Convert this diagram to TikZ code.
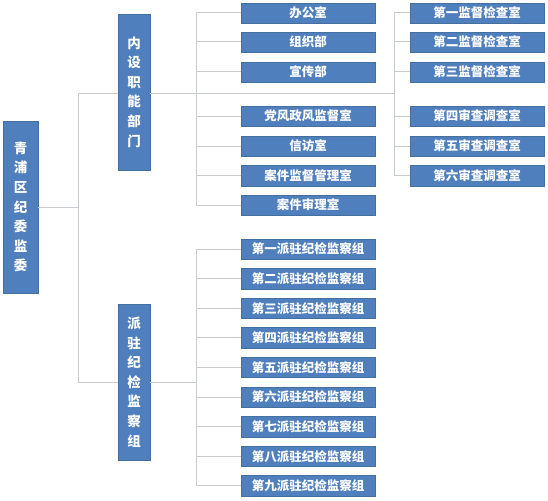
\documentclass[tikz,border=0pt]{standalone}
\usepackage{fontspec}
\newfontfamily\cjk{Noto Sans CJK SC}
\definecolor{boxblue}{HTML}{4F7FBC}
\definecolor{boxedge}{HTML}{44709F}
\definecolor{linegray}{HTML}{C8CBD0}
\begin{document}
\begin{tikzpicture}[x=1pt,y=-1pt,
  box/.style={fill=boxblue, draw=boxedge, line width=0.4pt, text=white,
    font=\cjk\bfseries\fontsize{12.5}{15}\selectfont,
    minimum width=134pt, minimum height=20.5pt, inner sep=0pt},
  vbox/.style={fill=boxblue, draw=boxedge, line width=0.4pt, text=white,
    font=\cjk\bfseries\fontsize{13.5}{19.6}\selectfont,
    align=center, inner sep=0pt},
  conn/.style={draw=linegray, line width=1pt}]
\useasboundingbox (0,0) rectangle (548,500);
% root and groups
\node[vbox, minimum width=35pt, minimum height=172pt] (root) at (20.5,207) {青\\浦\\区\\纪\\委\\监\\委};
\node[vbox, minimum width=32pt, minimum height=156pt] (g1) at (134,92) {内\\设\\职\\能\\部\\门};
\node[vbox, minimum width=32pt, minimum height=156pt] (g2) at (134,382) {派\\驻\\纪\\检\\监\\察\\组};
% departments
\node[box] (d1) at (308,13) {办公室};
\node[box] (d2) at (308,42) {组织部};
\node[box] (d3) at (308,72) {宣传部};
\node[box] (d4) at (308,116) {党风政风监督室};
\node[box] (d5) at (308,146) {信访室};
\node[box] (d6) at (308,175.5) {案件监督管理室};
\node[box] (d7) at (308,205) {案件审理室};
% offices
\node[box] (s1) at (477,13) {第一监督检查室};
\node[box] (s2) at (477,42) {第二监督检查室};
\node[box] (s3) at (477,72) {第三监督检查室};
\node[box] (s4) at (477,116) {第四审查调查室};
\node[box] (s5) at (477,146) {第五审查调查室};
\node[box] (s6) at (477,175.5) {第六审查调查室};
% stationed groups
\node[box] (p1) at (308,249) {第一派驻纪检监察组};
\node[box] (p2) at (308,278.6) {第二派驻纪检监察组};
\node[box] (p3) at (308,308.2) {第三派驻纪检监察组};
\node[box] (p4) at (308,337.8) {第四派驻纪检监察组};
\node[box] (p5) at (308,367.4) {第五派驻纪检监察组};
\node[box] (p6) at (308,397) {第六派驻纪检监察组};
\node[box] (p7) at (308,426.6) {第七派驻纪检监察组};
\node[box] (p8) at (308,456.2) {第八派驻纪检监察组};
\node[box] (p9) at (308,485.8) {第九派驻纪检监察组};
% connector coordinates
\coordinate (b1) at (78,94);
\coordinate (b2) at (78,382);
\coordinate (ta) at (196,0);
\coordinate (tb) at (394,0);
\coordinate (j1) at (394,94);
\coordinate (j2) at (196,382);
% root connectors
\draw[conn] (root.east) -- (root.east -| b1);
\draw[conn] (b1) -- (b2);
\draw[conn] (b1) -- (g1.west |- b1);
\draw[conn] (b2) -- (g2.west |- b2);
% departments tree
\draw[conn] (d1.west -| ta) -- (d7.west -| ta);
\foreach \n in {d1,d2,d3,d4,d5,d6,d7} \draw[conn] (\n.west -| ta) -- (\n.west);
\draw[conn] (g1.east |- b1) -- (j1);
\draw[conn] (s1.west -| tb) -- (s6.west -| tb);
\foreach \n in {s1,s2,s3,s4,s5,s6} \draw[conn] (\n.west -| tb) -- (\n.west);
% stationed tree
\draw[conn] (p1.west -| ta) -- (p9.west -| ta);
\foreach \n in {p1,p2,p3,p4,p5,p6,p7,p8,p9} \draw[conn] (\n.west -| ta) -- (\n.west);
\draw[conn] (g2.east |- b2) -- (j2);
\end{tikzpicture}
\end{document}
